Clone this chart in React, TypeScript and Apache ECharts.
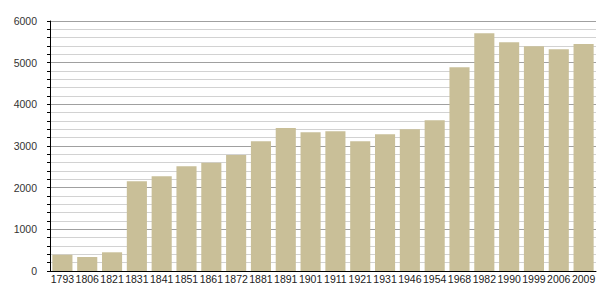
import React, { useEffect, useRef } from "react";
import * as echarts from "echarts";

const years = ["1793","1806","1821","1831","1841","1851","1861","1872","1881","1891","1901","1911","1921","1931","1946","1954","1968","1982","1990","1999","2006","2009"];
const population = [393,336,449,2153,2273,2513,2601,2784,3113,3432,3329,3353,3113,3281,3400,3617,4889,5705,5489,5393,5321,5448];

export default function App() {
  const ref = useRef<HTMLDivElement>(null);
  useEffect(() => {
    const chart = echarts.init(ref.current!, null, { renderer: "svg" });
    chart.setOption({
      animation: false,
      backgroundColor: "#ffffff",
      grid: { left: 50, right: 9, top: 21, bottom: 29, containLabel: false, outerBoundsMode: "none" },
      xAxis: {
        type: "category",
        data: years,
        axisLine: { show: true, lineStyle: { color: "#000", width: 1 } },
        axisTick: { show: false },
        axisLabel: { color: "#222", fontSize: 10.5, fontFamily: "Liberation Sans, Arial, sans-serif", margin: 2, interval: 0 },
      },
      yAxis: {
        type: "value",
        min: 0,
        max: 6000,
        interval: 1000,
        axisLine: { show: true, lineStyle: { color: "#000", width: 1 } },
        axisTick: { show: true, length: 3, lineStyle: { color: "#000" } },
        minorTick: { show: true, splitNumber: 5, length: 3, lineStyle: { color: "#000" } },
        splitLine: { show: true, lineStyle: { color: "#a0a0a0", width: 1 } },
        minorSplitLine: { show: true, lineStyle: { color: "#d2d2d2", width: 1 } },
        axisLabel: { color: "#333", fontSize: 10.5, fontFamily: "Liberation Sans, Arial, sans-serif", margin: 13, formatter: (v: number) => String(v) },
      },
      series: [
        {
          type: "bar",
          data: population,
          barCategoryGap: "19%",
          itemStyle: { color: "#c9bf98" },
        },
      ],
    });
    return () => chart.dispose();
  }, []);
  return <div ref={ref} style={{ position: "fixed", left: 0, top: 0, width: 605, height: 300 }} />;
}
